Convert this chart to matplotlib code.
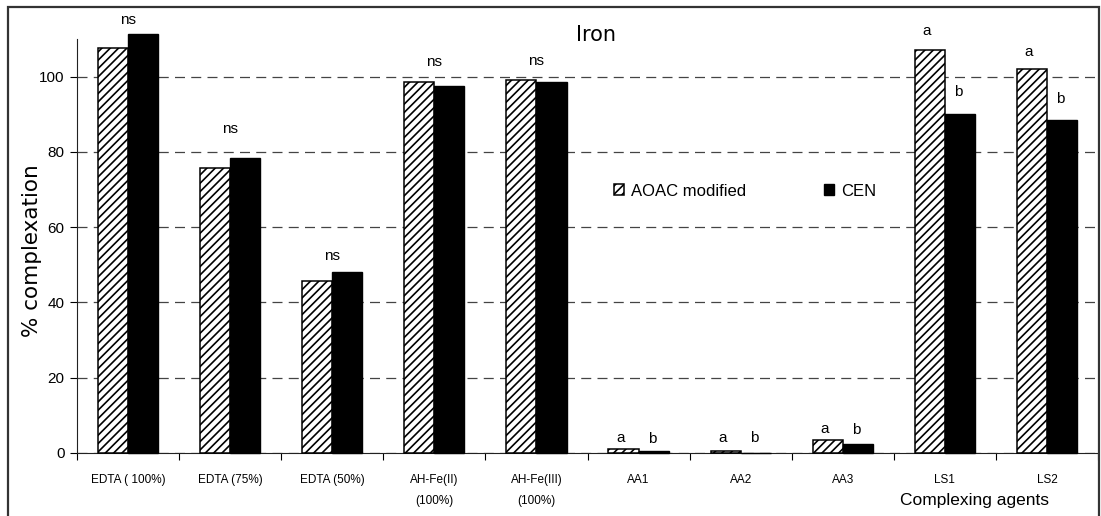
import matplotlib
matplotlib.use("Agg")
import numpy as np
import matplotlib.pyplot as plt
from matplotlib.patches import Rectangle

# Complexation of iron by each agent, two analytical methods
agents = ["EDTA ( 100%)", "EDTA (75%)", "EDTA (50%)", "AH-Fe(II)\n(100%)",
          "AH-Fe(III)\n(100%)", "AA1", "AA2", "AA3", "LS1", "LS2"]
aoac = [107.6, 75.7, 45.6, 98.6, 99.0, 1.0, 0.6, 3.5, 107.2, 102.1]
cen = [111.3, 78.3, 48.2, 97.6, 98.7, 0.5, 0.0, 2.5, 90.1, 88.6]

# significance letters: one "ns" per group, or a letter per bar
group_marks = ["ns", "ns", "ns", "ns", "ns", None, None, None, None, None]
aoac_marks = [None, None, None, None, None, "a", "a", "a", "a", "a"]
cen_marks = [None, None, None, None, None, "b", "b", "b", "b", "b"]

# how far (points) each letter sits above its bar
group_off = [10, 21, 11, 14, 14, 0, 0, 0, 0, 0]
aoac_off = [0, 0, 0, 0, 0, 8, 9, 8, 13, 12]
cen_off = [0, 0, 0, 0, 0, 9, 11, 10, 16, 15]

plt.rcParams["font.family"] = ["Liberation Sans", "DejaVu Sans"]
plt.rcParams["hatch.linewidth"] = 1.2
plt.rcParams["hatch.color"] = "#3a3a3a"

W, H = 1101, 516
fig = plt.figure(figsize=(W / 100, H / 100), dpi=100)
ax = fig.add_axes([77 / W, (H - 453) / H, (1098 - 77) / W, (453 - 39) / H])

x = np.arange(len(agents))
bw = 0.295
b1 = ax.bar(x - bw / 2, aoac, bw, facecolor="white", edgecolor="black",
            hatch="////", linewidth=1.1, label="AOAC modified", clip_on=False, zorder=3)
b2 = ax.bar(x + bw / 2, cen, bw, facecolor="black", edgecolor="black",
            linewidth=1.0, label="CEN", clip_on=False, zorder=3)

ax.set_xlim(-0.5, len(agents) - 0.5)
ax.set_ylim(0, 110)
ax.set_yticks(range(0, 101, 20))
ax.set_xticks(np.arange(len(agents) + 1) - 0.5)
ax.set_xticklabels([])
ax.set_xticks(x, minor=True)
ax.set_xticklabels(agents, minor=True, fontsize=8.5, linespacing=2.0)
ax.tick_params(axis="x", which="minor", length=0, pad=15)
ax.tick_params(axis="x", which="major", length=5, direction="out", width=0.8)
ax.tick_params(axis="y", length=5, direction="out", width=0.8, labelsize=11, pad=4)

for s in ("top", "right"):
    ax.spines[s].set_visible(False)
ax.spines["left"].set_color("#222222")
ax.spines["bottom"].set_color("#222222")

ax.yaxis.grid(True, linestyle=(0, (8, 5)), color="#444444", linewidth=0.9)
ax.set_axisbelow(True)

# significance annotations
for i in range(len(agents)):
    if group_marks[i]:
        ax.annotate(group_marks[i], (x[i], max(aoac[i], cen[i])),
                    xytext=(0, group_off[i]), textcoords="offset points",
                    ha="center", va="center", fontsize=11, annotation_clip=False)
    if aoac_marks[i]:
        ax.annotate(aoac_marks[i], (x[i] - bw / 2, aoac[i]),
                    xytext=(-2, aoac_off[i]), textcoords="offset points",
                    ha="center", va="center", fontsize=11, annotation_clip=False)
    if cen_marks[i]:
        ax.annotate(cen_marks[i], (x[i] + bw / 2, cen[i]),
                    xytext=(-1, cen_off[i]), textcoords="offset points",
                    ha="center", va="center", fontsize=11, annotation_clip=False)

fig.text(596 / W, 1 - 35 / H, "Iron", ha="center", va="center",
         fontsize=15, family="DejaVu Sans")
fig.text(32 / W, 1 - 251 / H, "% complexation", ha="center", va="center",
         rotation=90, fontsize=15.5, family="DejaVu Sans")
fig.text(975 / W, 1 - 500 / H, "Complexing agents", ha="center", va="center",
         fontsize=12.5)

leg = fig.legend(handles=[b1, b2], loc="center left",
                 bbox_to_anchor=(614 / W, 1 - 191 / H), ncol=2, frameon=False,
                 handlelength=0.6, handleheight=0.6, handletextpad=0.4,
                 columnspacing=4.7, fontsize=12, borderpad=0, borderaxespad=0)

# outer border around the whole chart
fig.patches.append(Rectangle((8 / W, -0.05), (1099 - 8) / W, 1.05 - 7 / H,
                             transform=fig.transFigure, fill=False,
                             edgecolor="#333333", linewidth=1.6))

fig.savefig("out.png", dpi=100)
